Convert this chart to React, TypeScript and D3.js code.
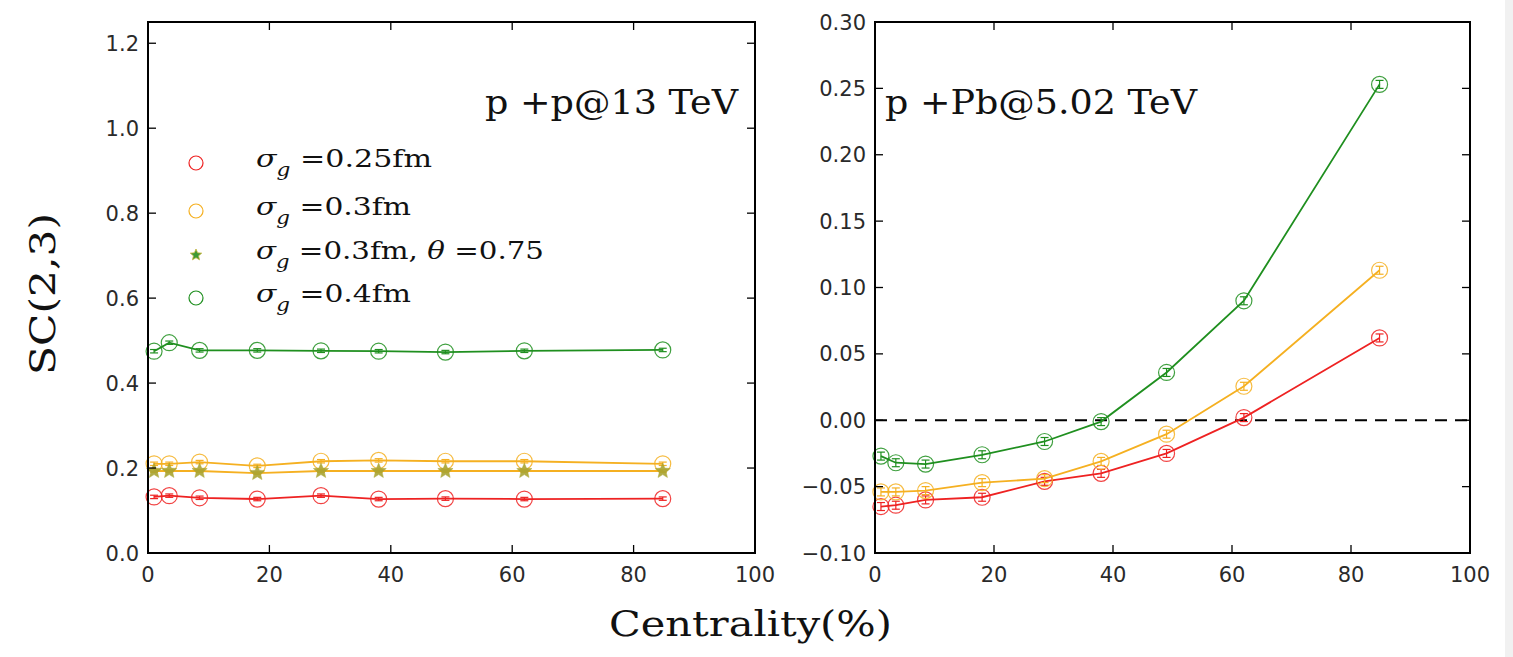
import React from "react";
import * as d3 from "d3";

const centrality = [1, 3.5, 8.5, 18, 28.5, 38, 49, 62, 84.8];

// p+p @ 13 TeV
const ppSigma025 = [0.132, 0.135, 0.13, 0.127, 0.135, 0.127, 0.128, 0.127, 0.128];
const ppSigma03 = [0.21, 0.21, 0.214, 0.205, 0.216, 0.218, 0.216, 0.216, 0.21];
const ppSigma03Theta = [0.193, 0.193, 0.193, 0.188, 0.193, 0.193, 0.193, 0.193, 0.193];
const ppSigma04 = [0.475, 0.495, 0.477, 0.477, 0.476, 0.475, 0.473, 0.476, 0.478];

// p+Pb @ 5.02 TeV
const pPbSigma025 = [-0.065, -0.064, -0.06, -0.058, -0.046, -0.04, -0.025, 0.002, 0.062];
const pPbSigma03 = [-0.054, -0.054, -0.053, -0.047, -0.044, -0.031, -0.0105, 0.0256, 0.113];
const pPbSigma04 = [-0.027, -0.032, -0.033, -0.026, -0.016, -0.001, 0.036, 0.09, 0.253];

const xTicks = [0, 20, 40, 60, 80, 100];
const leftYTicks = [0, 0.2, 0.4, 0.6, 0.8, 1.0, 1.2];
const rightYTicks = [-0.1, -0.05, 0, 0.05, 0.1, 0.15, 0.2, 0.25, 0.3];

const RED = "#ee2222";
const ORANGE = "#f5b021";
const GREEN = "#1f8f1f";
const STAR = "#a9a431";

const TICKFONT = "DejaVu Sans, sans-serif";
const SERIF = "'DejaVu Serif', 'Liberation Serif', serif";

function starPath(cx: number, cy: number, r: number) {
  const pts: string[] = [];
  for (let i = 0; i < 10; i++) {
    const a = -Math.PI / 2 + (i * Math.PI) / 5;
    const rr = i % 2 === 0 ? r : r * 0.45;
    pts.push(`${cx + rr * Math.cos(a)},${cy + rr * Math.sin(a)}`);
  }
  return "M" + pts.join("L") + "Z";
}

type Series = { values: number[]; color: string; marker: "circle" | "star"; lineColor?: string; err: number };

function Panel({
  x0, x1, y0, y1, yDomain, yTicks, fmt, series, zeroLine,
}: {
  x0: number; x1: number; y0: number; y1: number; yDomain: [number, number];
  yTicks: number[]; fmt: (v: number) => string; series: Series[]; zeroLine?: boolean;
}) {
  const xs = d3.scaleLinear().domain([0, 100]).range([x0, x1]);
  const ys = d3.scaleLinear().domain(yDomain).range([y1, y0]);
  const tl = 8;
  return (
    <g>
      {zeroLine && (
        <line x1={x0} x2={x1} y1={ys(0)} y2={ys(0)} stroke="#000" strokeWidth={2} strokeDasharray="12,8" />
      )}
      {series.map((s, si) => {
        const line = d3.line<number>().x((_, i) => xs(centrality[i])).y((v) => ys(v));
        return (
          <g key={si}>
            <path d={line(s.values) || ""} fill="none" stroke={s.lineColor || s.color} strokeWidth={1.8} />
            {s.values.map((v, i) => {
              const cx = xs(centrality[i]);
              const cy = ys(v);
              const ey1 = ys(v - s.err);
              const ey2 = ys(v + s.err);
              const c = s.lineColor || s.color;
              return (
                <g key={i}>
                  <line x1={cx} x2={cx} y1={ey1} y2={ey2} stroke={c} strokeWidth={1.2} />
                  <line x1={cx - 4} x2={cx + 4} y1={ey1} y2={ey1} stroke={c} strokeWidth={1.2} />
                  <line x1={cx - 4} x2={cx + 4} y1={ey2} y2={ey2} stroke={c} strokeWidth={1.2} />
                  {s.marker === "circle" ? (
                    <circle cx={cx} cy={cy} r={8} fill="none" stroke={s.color} strokeWidth={1.2} opacity={0.85} />
                  ) : (
                    <path d={starPath(cx, cy, 8)} fill={s.color} stroke={s.color} strokeWidth={0.5} opacity={0.9} />
                  )}
                </g>
              );
            })}
          </g>
        );
      })}
      <rect x={x0} y={y0} width={x1 - x0} height={y1 - y0} fill="none" stroke="#000" strokeWidth={2} />
      {xTicks.map((t) => (
        <g key={"x" + t}>
          <line x1={xs(t)} x2={xs(t)} y1={y1} y2={y1 - tl} stroke="#000" strokeWidth={1.3} />
          <line x1={xs(t)} x2={xs(t)} y1={y0} y2={y0 + tl} stroke="#000" strokeWidth={1.3} />
          <text x={xs(t)} y={y1 + 29} textAnchor="middle" fontFamily={TICKFONT} fontSize={21} fill="#2a2a2a">
            {t}
          </text>
        </g>
      ))}
      {yTicks.map((t) => (
        <g key={"y" + t}>
          <line x1={x0} x2={x0 + tl} y1={ys(t)} y2={ys(t)} stroke="#000" strokeWidth={1.3} />
          <line x1={x1} x2={x1 - tl} y1={ys(t)} y2={ys(t)} stroke="#000" strokeWidth={1.3} />
          <text x={x0 - 9} y={ys(t) + 7.5} textAnchor="end" fontFamily={TICKFONT} fontSize={21} fill="#2a2a2a">
            {fmt(t)}
          </text>
        </g>
      ))}
    </g>
  );
}

function LegendRow({ y, label, color, star, width }: { y: number; label: React.ReactNode; color: string; star?: boolean; width: number }) {
  return (
    <g>
      {star ? (
        <path d={starPath(196, y - 4, 6)} fill="#3f9a35" stroke="#c9b43a" strokeWidth={0.8} />
      ) : (
        <circle cx={196} cy={y - 4} r={7} fill="none" stroke={color} strokeWidth={1.2} />
      )}
      <text x={256} y={y} fontFamily={SERIF} fontSize={25} fill="#111" textLength={width} lengthAdjust="spacingAndGlyphs">
        {label}
      </text>
    </g>
  );
}

function Sigma({ rest }: { rest: string }) {
  return (
    <>
      <tspan fontStyle="italic">σ</tspan>
      <tspan fontStyle="italic" fontSize={18} dy={9}>g</tspan>
      <tspan dy={-9}>{" =" + rest}</tspan>
    </>
  );
}

export default function App() {
  const fmt1 = (v: number) => v.toFixed(1);
  const fmt2 = (v: number) => (v < 0 ? "\u2212" + Math.abs(v).toFixed(2) : v.toFixed(2));
  return (
    <svg width={1513} height={657} style={{ position: "absolute", left: 0, top: 0, background: "#fff" }}>
      <rect x={0} y={0} width={1513} height={657} fill="#fff" />
      <rect x={1505} y={0} width={8} height={657} fill="#f1f1f1" />
      <Panel
        x0={148} x1={755} y0={22} y1={553} yDomain={[0, 1.25]} yTicks={leftYTicks} fmt={fmt1}
        series={[
          { values: ppSigma025, color: RED, marker: "circle", err: 0.004 },
          { values: ppSigma03, color: ORANGE, marker: "circle", err: 0.004 },
          { values: ppSigma03Theta, color: STAR, marker: "star", lineColor: ORANGE, err: 0.003 },
          { values: ppSigma04, color: GREEN, marker: "circle", err: 0.004 },
        ]}
      />
      <Panel
        x0={875} x1={1470} y0={22} y1={553} yDomain={[-0.1, 0.3]} yTicks={rightYTicks} fmt={fmt2} zeroLine
        series={[
          { values: pPbSigma025, color: RED, marker: "circle", err: 0.003 },
          { values: pPbSigma03, color: ORANGE, marker: "circle", err: 0.003 },
          { values: pPbSigma04, color: GREEN, marker: "circle", err: 0.003 },
        ]}
      />
      <text x={485} y={114} fontFamily={SERIF} fontSize={33} fill="#111" textLength={253} lengthAdjust="spacingAndGlyphs">
        p +p@13 TeV
      </text>
      <text x={885} y={114} fontFamily={SERIF} fontSize={33} fill="#111" textLength={312} lengthAdjust="spacingAndGlyphs">
        p +Pb@5.02 TeV
      </text>
      <LegendRow y={167} width={176} color={RED} label={<Sigma rest="0.25fm" />} />
      <LegendRow y={215} width={155} color={ORANGE} label={<Sigma rest="0.3fm" />} />
      <LegendRow
        y={259}
        width={288}
        color={STAR}
        star
        label={
          <>
            <Sigma rest="0.3fm, " />
            <tspan fontStyle="italic">θ</tspan>
            <tspan>{" =0.75"}</tspan>
          </>
        }
      />
      <LegendRow y={302} width={155} color={GREEN} label={<Sigma rest="0.4fm" />} />
      <text
        transform="translate(55,294) rotate(-90)"
        textAnchor="middle"
        fontFamily={SERIF}
        fontSize={36}
        fill="#111"
        textLength={162}
        lengthAdjust="spacingAndGlyphs"
      >
        SC(2,3)
      </text>
      <text x={609} y={636} fontFamily={SERIF} fontSize={36} fill="#111" textLength={283} lengthAdjust="spacingAndGlyphs">
        Centrality(%)
      </text>
    </svg>
  );
}
